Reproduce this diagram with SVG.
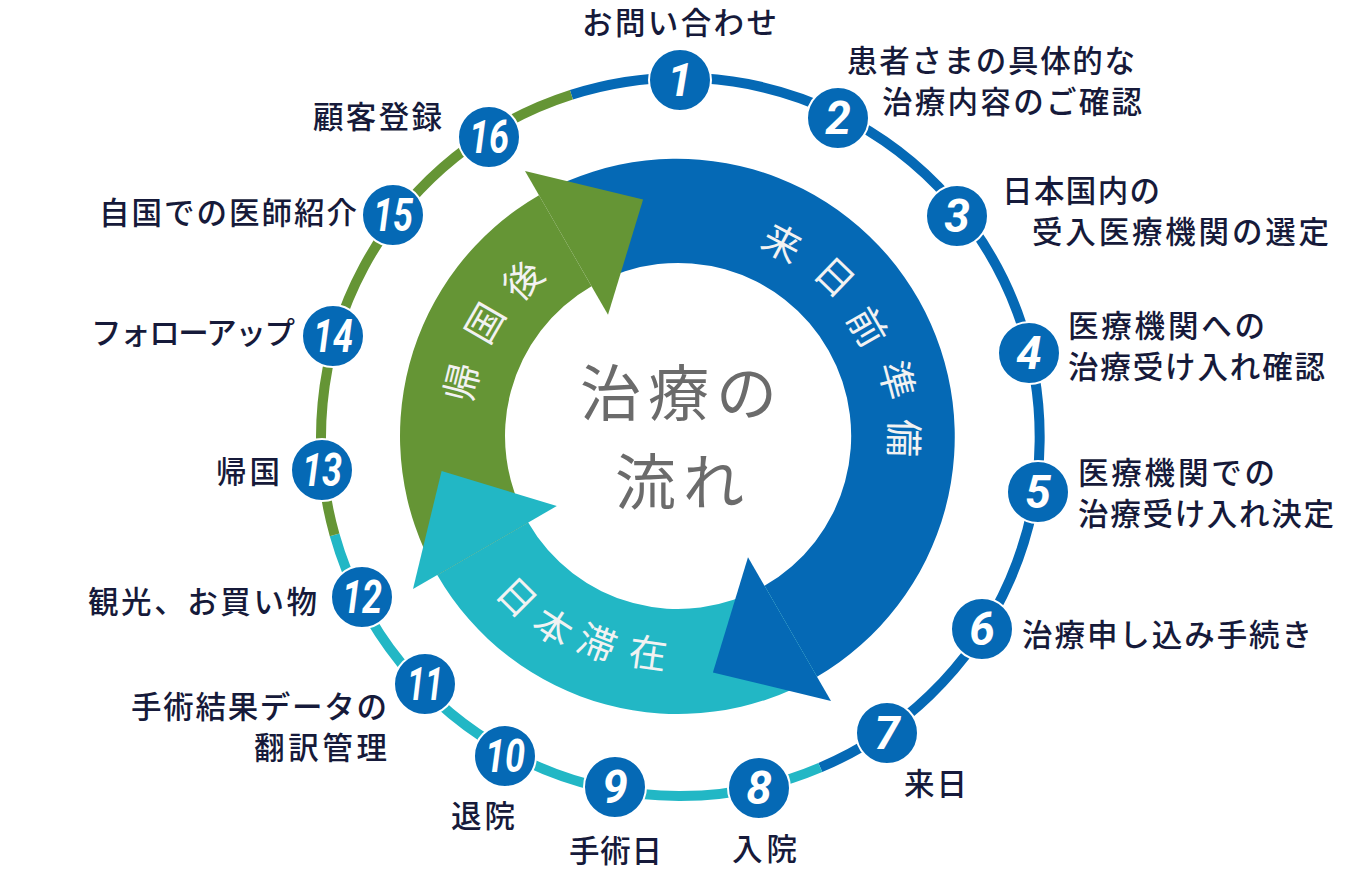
<svg xmlns="http://www.w3.org/2000/svg" width="1360" height="880" viewBox="0 0 1360 880">
<style>
.lbl{font-family:"Noto Sans CJK JP","Noto Sans CJK SC",sans-serif;font-size:30.5px;fill:#161a3a;font-weight:500}
.num{font-family:Roboto,"Liberation Sans",sans-serif;font-style:italic;font-weight:700;font-size:46px;fill:#fff}
.dot{fill:#0569b5;stroke:#fff;stroke-width:2}
.at{font-family:"Noto Sans CJK JP","Noto Sans CJK SC",sans-serif;font-size:38px;fill:#f2f2f2;text-anchor:middle;font-weight:400}
.ring{fill:none;stroke-width:10}
.ctr{font-family:"Noto Sans CJK JP","Noto Sans CJK SC",sans-serif;font-size:61px;fill:#6b6b6b;text-anchor:middle;letter-spacing:7px}
</style>
<rect width="1360" height="880" fill="#fff"/>
<g id="connectors">
<path class="ring" stroke="#0569b5" d="M571.4 94.8 A359 359 0 0 1 820.3 767.5"/>
<path class="ring" stroke="#22b7c5" d="M820.3 767.5 A359 359 0 0 1 334.6 534.8"/>
<path class="ring" stroke="#659535" d="M334.6 534.8 A359 359 0 0 1 571.4 94.8"/>
</g>
<g id="cycle">
<path fill="#0569b5" d="M543.2 192.9 A278 278 0 0 1 817 676.75 L764.5 585.82 A173 173 0 0 0 594.1 284.7 Z"/>
<path fill="#22b7c5" d="M817 676.75 A278 278 0 0 1 437.25 575 L528.18 522.5 A173 173 0 0 0 764.5 585.82 Z"/>
<path fill="#659535" d="M437.25 575 A278 278 0 0 1 539 195.25 L591.5 286.18 A173 173 0 0 0 528.18 522.5 Z"/>
<polygon fill="#0569b5" points="748,557.2 831,701 712.9,672.4"/>
<polygon fill="#22b7c5" points="556.8,506 413,589 441.6,470.9"/>
<polygon fill="#659535" points="608,314.8 525,171 643.1,199.6"/>
<g id="phase-before">
<text class="at" transform="translate(782,243) rotate(28)" y="14">来</text>
<text class="at" transform="translate(835,277) rotate(44)" y="14">日</text>
<text class="at" transform="translate(867,327) rotate(60)" y="14">前</text>
<text class="at" transform="translate(897,380) rotate(75)" y="14">準</text>
<text class="at" transform="translate(904,438) rotate(91)" y="14">備</text>
</g>
<g id="phase-stay">
<text class="at" transform="translate(517,597) rotate(45)" y="14">日</text>
<text class="at" transform="translate(553,627) rotate(33)" y="14">本</text>
<text class="at" transform="translate(597,643) rotate(21)" y="14">滞</text>
<text class="at" transform="translate(648,653) rotate(8)" y="14">在</text>
</g>
<g id="phase-after">
<text class="at" transform="translate(462,382) rotate(-76)" y="14">帰</text>
<text class="at" transform="translate(485,323) rotate(-60)" y="14">国</text>
<text class="at" transform="translate(523,280) rotate(-45)" y="14">後</text>
</g>
</g>
<g id="title">
<text class="ctr" x="682" y="416">治療の</text>
<text class="ctr" x="683" y="505">流れ</text>
</g>
<g id="n1"><circle class="dot" cx="680" cy="80" r="31"/><text class="num" x="680" y="96.3" text-anchor="middle">1</text><text class="lbl" x="582" y="33.5" textLength="195">お問い合わせ</text></g>
<g id="n2"><circle class="dot" cx="838" cy="118" r="31"/><text class="num" x="838" y="134.3" text-anchor="middle">2</text><text class="lbl" x="847" y="71.5" textLength="288">患者さまの具体的な</text><text class="lbl" x="882" y="112.5" textLength="260">治療内容のご確認</text></g>
<g id="n3"><circle class="dot" cx="957" cy="216" r="31"/><text class="num" x="957" y="232.3" text-anchor="middle">3</text><text class="lbl" x="1002" y="201.5" textLength="158">日本国内の</text><text class="lbl" x="1032" y="242.5" textLength="297">受入医療機関の選定</text></g>
<g id="n4"><circle class="dot" cx="1029" cy="353" r="31"/><text class="num" x="1029" y="369.3" text-anchor="middle">4</text><text class="lbl" x="1068" y="336.5" textLength="197">医療機関への</text><text class="lbl" x="1068" y="377.5" textLength="257">治療受け入れ確認</text></g>
<g id="n5"><circle class="dot" cx="1038" cy="492" r="31"/><text class="num" x="1038" y="508.3" text-anchor="middle">5</text><text class="lbl" x="1078" y="483.5" textLength="197">医療機関での</text><text class="lbl" x="1078" y="524.5" textLength="256">治療受け入れ決定</text></g>
<g id="n6"><circle class="dot" cx="982" cy="629" r="31"/><text class="num" x="982" y="645.3" text-anchor="middle">6</text><text class="lbl" x="1022" y="645.5" textLength="290">治療申し込み手続き</text></g>
<g id="n7"><circle class="dot" cx="887" cy="733" r="31"/><text class="num" x="887" y="749.3" text-anchor="middle">7</text><text class="lbl" x="904" y="794.5" textLength="63">来日</text></g>
<g id="n8"><circle class="dot" cx="759" cy="788" r="31"/><text class="num" x="759" y="804.3" text-anchor="middle">8</text><text class="lbl" x="732" y="859.5" textLength="65">入院</text></g>
<g id="n9"><circle class="dot" cx="615" cy="787" r="31"/><text class="num" x="615" y="803.3" text-anchor="middle">9</text><text class="lbl" x="569" y="861.5" textLength="93">手術日</text></g>
<g id="n10"><circle class="dot" cx="505" cy="756" r="31"/><text class="num" x="485" y="772.3" textLength="40" lengthAdjust="spacingAndGlyphs">10</text><text class="lbl" x="451" y="826.5" textLength="64">退院</text></g>
<g id="n11"><circle class="dot" cx="425" cy="684" r="31"/><text class="num" x="407" y="700.3" textLength="36" lengthAdjust="spacingAndGlyphs">11</text><text class="lbl" x="131" y="718" textLength="256">手術結果データの</text><text class="lbl" x="254" y="759" textLength="133">翻訳管理</text></g>
<g id="n12"><circle class="dot" cx="362" cy="597" r="31"/><text class="num" x="342" y="613.3" textLength="40" lengthAdjust="spacingAndGlyphs">12</text><text class="lbl" x="88" y="612.5" textLength="229">観光、お買い物</text></g>
<g id="n13"><circle class="dot" cx="322" cy="470" r="31"/><text class="num" x="302" y="486.3" textLength="40" lengthAdjust="spacingAndGlyphs">13</text><text class="lbl" x="216" y="482.5" textLength="64">帰国</text></g>
<g id="n14"><circle class="dot" cx="333" cy="336" r="31"/><text class="num" x="313" y="352.3" textLength="40" lengthAdjust="spacingAndGlyphs">14</text><text class="lbl" x="91" y="343.5" textLength="204">フォローアップ</text></g>
<g id="n15"><circle class="dot" cx="393" cy="215" r="31"/><text class="num" x="373" y="231.3" textLength="40" lengthAdjust="spacingAndGlyphs">15</text><text class="lbl" x="99" y="223.5" textLength="258">自国での医師紹介</text></g>
<g id="n16"><circle class="dot" cx="489" cy="137" r="31"/><text class="num" x="469" y="153.3" textLength="40" lengthAdjust="spacingAndGlyphs">16</text><text class="lbl" x="313" y="127.5" textLength="129">顧客登録</text></g>
</svg>
